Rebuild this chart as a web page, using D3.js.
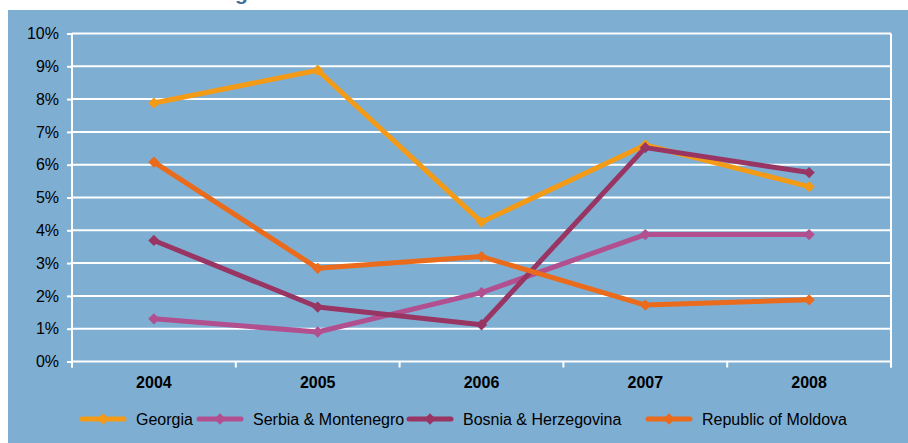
<!DOCTYPE html>
<html>
<head>
<meta charset="utf-8">
<script src="https://cdn.jsdelivr.net/npm/d3@7/dist/d3.min.js"></script>
<style>
  html, body { margin: 0; padding: 0; background: #ffffff; }
  svg { display: block; }
</style>
</head>
<body>
<svg id="chart" width="908" height="443"></svg>
<script>
const years = ["2004", "2005", "2006", "2007", "2008"];
const seriesNames = ["Georgia", "Serbia & Montenegro", "Bosnia & Herzegovina", "Republic of Moldova"];
const georgia = [7.88, 8.88, 4.25, 6.6, 5.33];
const serbia = [1.3, 0.9, 2.1, 3.87, 3.87];
const bosnia = [3.69, 1.66, 1.12, 6.52, 5.76];
const moldova = [6.08, 2.84, 3.2, 1.72, 1.88];
const seriesColors = ["#F39A17", "#B24F8F", "#983563", "#EA6B1B"];
const yTicks = [0, 1, 2, 3, 4, 5, 6, 7, 8, 9, 10];

const seriesValues = [georgia, serbia, bosnia, moldova];
const series = seriesNames.map((name, i) => ({ name, values: seriesValues[i], color: seriesColors[i] }));

const FONT = "Liberation Sans, Arial, sans-serif";
const svg = d3.select("#chart");

// Title (mostly cut off above the viewport, as in the reference)
const title = svg.append("text")
  .attr("y", 0)
  .attr("font-family", FONT)
  .attr("font-weight", "bold")
  .attr("font-size", 21)
  .attr("fill", "#3F6E97");
const t1 = title.append("tspan").text("Real GDP ");
title.append("tspan").text("growth");
const t1len = t1.node().getComputedTextLength();
title.attr("x", 235 - t1len);

// panel
svg.append("rect").attr("x", 8).attr("y", 10).attr("width", 900).attr("height", 433).attr("fill", "#7FAED3");

const pLeft = 72, pRight = 891, pTop = 33.5, pBottom = 361.5;
const x = d3.scaleBand().domain(years).range([pLeft, pRight]);
const y = d3.scaleLinear().domain([0, 10]).range([pBottom, pTop]);

// gridlines
svg.append("g").selectAll("line").data(yTicks.filter(d => d > 0)).join("line")
  .attr("x1", pLeft).attr("x2", pRight)
  .attr("y1", d => y(d)).attr("y2", d => y(d))
  .attr("stroke", "#ffffff").attr("stroke-width", 2);

// right border line
svg.append("line").attr("x1", pRight).attr("x2", pRight).attr("y1", pTop).attr("y2", pBottom + 6)
  .attr("stroke", "#ffffff").attr("stroke-width", 2);

// Y axis
const yAxis = d3.axisLeft(y).tickValues(yTicks).tickFormat(d => d + "%").tickSize(5).tickPadding(8);
const gy = svg.append("g").attr("transform", `translate(${pLeft},0)`).call(yAxis);
gy.select(".domain").attr("stroke", "#ffffff").attr("stroke-width", 2).attr("d", `M0,${pTop}V${pBottom + 6}`);
gy.selectAll(".tick line").attr("stroke", "#ffffff").attr("stroke-width", 2);
gy.selectAll(".tick text").attr("fill", "#000").attr("font-size", 16).attr("font-family", FONT);

// X axis
const xAxis = d3.axisBottom(x).tickSize(0).tickPadding(15);
const gx = svg.append("g").attr("transform", `translate(0,${pBottom})`).call(xAxis);
gx.select(".domain").attr("stroke", "#ffffff").attr("stroke-width", 2).attr("d", `M${pLeft},0H${pRight}`);
gx.selectAll(".tick text").attr("fill", "#000").attr("font-size", 16).attr("font-weight", "bold")
  .attr("font-family", FONT);
// boundary ticks
const bounds = years.map(d => x(d)).concat([pRight]);
svg.append("g").selectAll("line").data(bounds).join("line")
  .attr("x1", d => d).attr("x2", d => d).attr("y1", pBottom).attr("y2", pBottom + 6)
  .attr("stroke", "#ffffff").attr("stroke-width", 2);

const cx = d => x(d) + x.bandwidth() / 2;
const line = d3.line().x((v, i) => cx(years[i])).y(v => y(v));
const diamond = d3.symbol().type(d3.symbolSquare).size(64);

const gs = svg.append("g").selectAll("g").data(series).join("g");
gs.append("path").attr("d", d => line(d.values)).attr("fill", "none")
  .attr("stroke", d => d.color).attr("stroke-width", 5).attr("stroke-linejoin", "round");
gs.each(function(s) {
  d3.select(this).selectAll("path.m").data(s.values).join("path").attr("class", "m")
    .attr("d", diamond).attr("fill", s.color)
    .attr("transform", (v, i) => `translate(${cx(years[i])},${y(v)}) rotate(45)`);
});

// Legend
const legendX = [82, 199, 409, 648];
const lg = svg.append("g").selectAll("g").data(series).join("g")
  .attr("transform", (d, i) => `translate(${legendX[i]},419)`);
lg.append("line").attr("x1", 0).attr("x2", 42).attr("y1", 0).attr("y2", 0)
  .attr("stroke", d => d.color).attr("stroke-width", 5).attr("stroke-linecap", "round");
lg.append("path").attr("d", diamond).attr("fill", d => d.color).attr("transform", "translate(21,0) rotate(45)");
lg.append("text").attr("x", 54).attr("y", 5.5).text(d => d.name)
  .attr("font-size", 16).attr("fill", "#000").attr("font-family", FONT);
</script>
</body>
</html>
